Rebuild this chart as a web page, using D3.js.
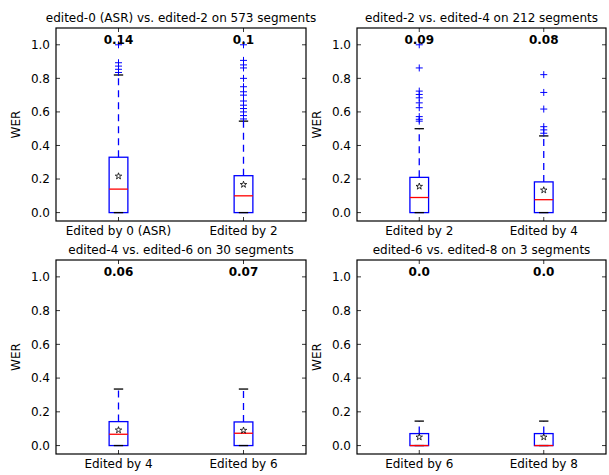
<!DOCTYPE html>
<html>
<head>
<meta charset="utf-8">
<script src="https://cdn.jsdelivr.net/npm/d3@7"></script>
<style>
  body { margin: 0; background: #fff; }
  text { font-family: "DejaVu Sans", sans-serif; }
</style>
</head>
<body>
<svg id="chart"></svg>
<script>
const titles = [
    "edited-0 (ASR) vs. edited-2 on 573 segments",
    "edited-2 vs. edited-4 on 212 segments",
    "edited-4 vs. edited-6 on 30 segments",
    "edited-6 vs. edited-8 on 3 segments"
];
const boxLabels = [
    ["Edited by 0 (ASR)", "Edited by 2"],
    ["Edited by 2", "Edited by 4"],
    ["Edited by 4", "Edited by 6"],
    ["Edited by 6", "Edited by 8"]
];
const topValues = [["0.14", "0.1"], ["0.09", "0.08"], ["0.06", "0.07"], ["0.0", "0.0"]];
const q1 = [[0, 0], [0, 0], [0, 0], [0, 0]];
const q3 = [[0.33, 0.22], [0.21, 0.183], [0.142, 0.14], [0.071, 0.071]];
const medians = [[0.14, 0.1], [0.09, 0.077], [0.067, 0.073], [0, 0]];
const means = [[0.217, 0.167], [0.156, 0.134], [0.092, 0.09], [0.05, 0.05]];
const whiskLo = [[0, 0], [0, 0], [0, 0], [0, 0]];
const whiskHi = [[0.82, 0.545], [0.5, 0.457], [0.335, 0.335], [0.145, 0.145]];
const fliers = [
    [[0.835, 0.854, 0.873, 0.893, 1.0],
     [0.558, 0.578, 0.6, 0.62, 0.64, 0.665, 0.7, 0.72, 0.75, 0.8, 0.862, 0.88, 0.907, 1.0]],
    [[0.545, 0.556, 0.572, 0.625, 0.654, 0.684, 0.704, 0.724, 0.862, 1.0],
     [0.473, 0.493, 0.512, 0.617, 0.716, 0.822]],
    [[], []],
    [[], []]
];
const yTicks = [0, 0.2, 0.4, 0.6, 0.8, 1.0];

const width = 609, height = 475;
const svg = d3.select("#chart").attr("width", width).attr("height", height);
svg.append("rect").attr("width", width).attr("height", height).attr("fill", "#fff");

// axes rectangles (left, top, right, bottom)
const frames = [
    [56, 28, 306, 221],
    [357, 28, 606, 221],
    [56, 260, 306, 454],
    [357, 260, 606, 454]
];

frames.forEach((f, i) => {
    const [l, t, r, b] = f;
    const x = d3.scaleLinear().domain([0.5, 2.5]).range([l, r]);
    const y = d3.scaleLinear().domain([-0.05, 1.1]).range([b, t]);
    const g = svg.append("g");
    const bw = x(1.075) - x(0.925);
    const cw = bw / 2;

    // ticks (inward, all four sides)
    yTicks.forEach(v => {
        g.append("line").attr("x1", l).attr("x2", l + 4).attr("y1", y(v)).attr("y2", y(v))
            .attr("stroke", "#000").attr("stroke-width", 0.8);
        g.append("line").attr("x1", r).attr("x2", r - 4).attr("y1", y(v)).attr("y2", y(v))
            .attr("stroke", "#000").attr("stroke-width", 0.8);
        g.append("text").attr("x", l - 6).attr("y", y(v)).attr("dy", "0.35em")
            .attr("text-anchor", "end").attr("font-size", 12).text(d3.format(".1f")(v));
    });
    [1, 2].forEach(p => {
        g.append("line").attr("x1", x(p)).attr("x2", x(p)).attr("y1", b).attr("y2", b - 4)
            .attr("stroke", "#000").attr("stroke-width", 0.8);
        g.append("line").attr("x1", x(p)).attr("x2", x(p)).attr("y1", t).attr("y2", t + 4)
            .attr("stroke", "#000").attr("stroke-width", 0.8);
        g.append("text").attr("x", x(p)).attr("y", b + 14).attr("text-anchor", "middle")
            .attr("font-size", 12).text(boxLabels[i][p - 1]);
    });

    // boxes
    [0, 1].forEach(k => {
        const cx = x(k + 1);
        g.append("line").attr("x1", cx).attr("x2", cx)
            .attr("y1", y(q3[i][k])).attr("y2", y(whiskHi[i][k]))
            .attr("stroke", "#0000ff").attr("stroke-width", 1.3).attr("stroke-dasharray", "7,5");
        g.append("rect").attr("x", cx - bw / 2).attr("y", y(q3[i][k]))
            .attr("width", bw).attr("height", y(q1[i][k]) - y(q3[i][k]))
            .attr("fill", "none").attr("stroke", "#0000ff").attr("stroke-width", 1.3);
        [whiskHi[i][k], whiskLo[i][k]].forEach(v => {
            g.append("line").attr("x1", cx - cw / 2).attr("x2", cx + cw / 2)
                .attr("y1", y(v)).attr("y2", y(v)).attr("stroke", "#000").attr("stroke-width", 1.3);
        });
        g.append("line").attr("x1", cx - bw / 2).attr("x2", cx + bw / 2)
            .attr("y1", y(medians[i][k])).attr("y2", y(medians[i][k]))
            .attr("stroke", "#ff0000").attr("stroke-width", 1.3);
        fliers[i][k].forEach(v => {
            g.append("path").attr("d", `M${cx - 3.5},${y(v)}H${cx + 3.5}M${cx},${y(v) - 3.5}V${y(v) + 3.5}`)
                .attr("stroke", "#0000ff").attr("stroke-width", 1).attr("fill", "none");
        });
        g.append("path").attr("d", d3.symbol(d3.symbolStar, 13)())
            .attr("transform", `translate(${cx},${y(means[i][k])})`)
            .attr("fill", "none").attr("stroke", "#000").attr("stroke-width", 0.8);
        g.append("text").attr("x", cx).attr("y", y(1.0) - 1).attr("text-anchor", "middle")
            .attr("font-size", 12).attr("font-weight", "bold").text(topValues[i][k]);
    });

    g.append("rect").attr("x", l).attr("y", t).attr("width", r - l).attr("height", b - t)
        .attr("fill", "none").attr("stroke", "#000").attr("stroke-width", 1.2);

    g.append("text").attr("x", (l + r) / 2).attr("y", t - 6).attr("text-anchor", "middle")
        .attr("font-size", 12).text(titles[i]);
    g.append("text").attr("transform", `translate(${l - 36},${(t + b) / 2}) rotate(-90)`)
        .attr("text-anchor", "middle").attr("font-size", 12).text("WER");
});
</script>
</body>
</html>
